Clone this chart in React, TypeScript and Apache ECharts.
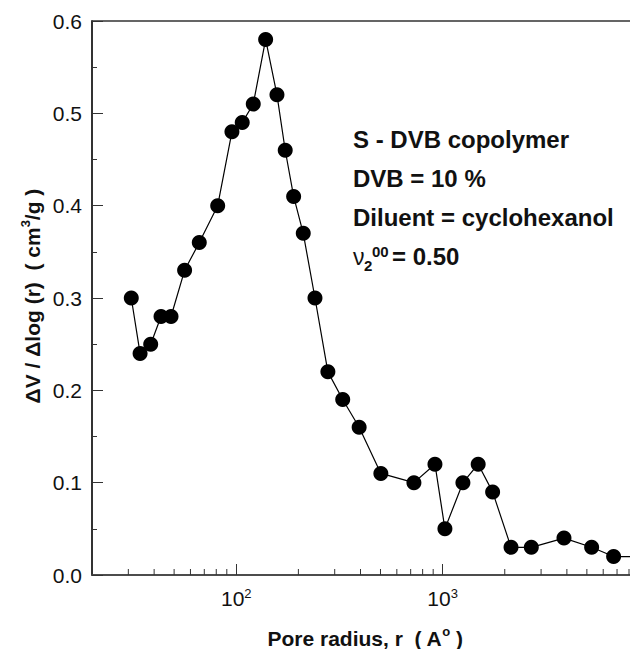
import React, { useEffect, useRef } from "react";
import * as echarts from "echarts";

// Pore size distribution of an S-DVB copolymer (log-scaled pore radius)
const poreRadius = [
  31, 34.2, 38.5, 43.2, 48.3, 56.2, 66.2, 81.3, 95.3, 106.9, 120.9, 138.8,
  157.5, 172.7, 189.7, 211.2, 240.7, 278, 328, 394, 502, 726, 918, 1026,
  1254, 1487, 1747, 2145, 2690, 3873, 5273, 6738, 9000,
];
const dvDlogR = [
  0.3, 0.24, 0.25, 0.28, 0.28, 0.33, 0.36, 0.4, 0.48, 0.49, 0.51, 0.58,
  0.52, 0.46, 0.41, 0.37, 0.3, 0.22, 0.19, 0.16, 0.11, 0.1, 0.12, 0.05,
  0.1, 0.12, 0.09, 0.03, 0.03, 0.04, 0.03, 0.02, 0.02,
];

// Minor tick positions on the logarithmic radius axis
const xMinorTicks = [
  30, 40, 50, 60, 70, 80, 90, 200, 300, 400, 500, 600, 700, 800, 900, 2000,
  3000, 4000, 5000, 6000, 7000, 8000, 9000,
];
// Decades that carry a "10^k" label
const xLabelledDecades = [2, 3];

const annotationLines = ["S - DVB copolymer", "DVB = 10 %", "Diluent = cyclohexanol"];

const FONT = "'Liberation Sans', Arial, Helvetica, sans-serif";
const INK = "#111";

export default function App() {
  const ref = useRef<HTMLDivElement>(null);

  useEffect(() => {
    if (!ref.current) return;
    const chart = echarts.init(ref.current, null, { renderer: "svg" });

    const points = poreRadius.map((r, i) => [r, dvDlogR[i]]);

    const annX = 353;
    const annBaselines = [151, 190, 229, 268];

    const graphics: any[] = annotationLines.map((t, i) => ({
      type: "text",
      x: annX,
      y: annBaselines[i],
      style: {
        text: t,
        font: `bold 24px ${FONT}`,
        fill: INK,
        textVerticalAlign: "bottom",
      },
    }));
    // nu_2^00 = 0.50
    const b4 = annBaselines[3];
    graphics.push(
      { type: "text", x: annX, y: b4, style: { text: "ν", font: `23px ${FONT}`, fill: INK, textVerticalAlign: "bottom" } },
      { type: "text", x: annX + 11, y: b4 + 5, style: { text: "2", font: `bold 15px ${FONT}`, fill: INK, textVerticalAlign: "bottom" } },
      { type: "text", x: annX + 19, y: b4 - 9, style: { text: "00", font: `bold 15px ${FONT}`, fill: INK, textVerticalAlign: "bottom" } },
      { type: "text", x: annX + 39, y: b4, style: { text: "= 0.50", font: `bold 24px ${FONT}`, fill: INK, textVerticalAlign: "bottom" } }
    );

    // Axis titles
    graphics.push({
      type: "text",
      x: 365,
      y: 637,
      style: {
        text: "{b|Pore radius, r  ( A}{s|o}{b| )}",
        font: `bold 21px ${FONT}`,
        fill: INK,
        align: "center",
        verticalAlign: "middle",
        rich: {
          b: { font: `bold 21px ${FONT}`, fill: INK, lineHeight: 24, verticalAlign: "bottom" },
          s: { font: `bold 13px ${FONT}`, fill: INK, lineHeight: 24, verticalAlign: "top" },
        },
      },
    });
    graphics.push({
      type: "text",
      x: 31,
      y: 296,
      rotation: Math.PI / 2,
      style: {
        text: "{b|ΔV / Δlog (r)  ( cm}{s|3}{b|/g )}",
        font: `bold 21px ${FONT}`,
        fill: INK,
        align: "center",
        verticalAlign: "middle",
        rich: {
          b: { font: `bold 21px ${FONT}`, fill: INK, lineHeight: 24, verticalAlign: "bottom" },
          s: { font: `bold 13px ${FONT}`, fill: INK, lineHeight: 24, verticalAlign: "top" },
        },
      },
    });

    chart.setOption({
      animation: false,
      backgroundColor: "#fff",
      grid: {
        left: 92,
        top: 21,
        right: 0,
        bottom: 74,
        show: true,
        borderColor: "#333",
        borderWidth: 1.5,
        containLabel: false,
        outerBoundsMode: "none",
      },
      xAxis: {
        type: "log",
        logBase: 10,
        min: 20,
        max: 10000,
        axisLine: { show: true, lineStyle: { color: "#444", width: 1.5 } },
        axisTick: { show: true, inside: true, length: 11, lineStyle: { color: "#333", width: 1 } },
        splitLine: { show: false },
        axisLabel: {
          margin: 12,
          color: INK,
          fontFamily: FONT,
          fontSize: 21,
          showMinLabel: false,
          showMaxLabel: false,
          formatter: (v: number) => {
            const k = Math.round(Math.log10(v));
            if (Math.abs(Math.log10(v) - k) > 1e-6) return "";
            if (!xLabelledDecades.includes(k)) return "";
            return `{b|10}{s|${k}}`;
          },
          rich: {
            b: { fontFamily: FONT, fontSize: 21, color: INK, lineHeight: 22, verticalAlign: "bottom" },
            s: { fontFamily: FONT, fontSize: 13, color: INK, lineHeight: 22, verticalAlign: "top" },
          },
        },
      },
      yAxis: {
        type: "value",
        min: 0,
        max: 0.6,
        interval: 0.1,
        axisLine: { show: true, lineStyle: { color: "#222", width: 1.5 } },
        axisTick: { show: true, inside: true, length: 11, lineStyle: { color: "#333", width: 1 } },
        minorTick: { show: true, splitNumber: 2, length: 5, lineStyle: { color: "#333", width: 1 } },
        splitLine: { show: false },
        axisLabel: {
          margin: 10,
          color: INK,
          fontFamily: FONT,
          fontSize: 21,
          formatter: (v: number) => v.toFixed(1),
        },
      },
      series: [
        {
          type: "custom",
          silent: true,
          data: xMinorTicks.map((v) => [v, 0]),
          renderItem: (_params: any, api: any) => {
            const p = api.coord([api.value(0), 0]);
            return {
              type: "line",
              shape: { x1: p[0], y1: p[1], x2: p[0], y2: p[1] - 6 },
              style: { stroke: "#333", lineWidth: 1 },
            };
          },
          z: 1,
        },
        {
          type: "line",
          data: points,
          symbol: "circle",
          symbolSize: 15,
          itemStyle: { color: "#000" },
          lineStyle: { color: "#000", width: 1.2 },
          z: 3,
        },
      ],
      graphic: graphics,
    });

    return () => chart.dispose();
  }, []);

  // The plot area runs a little past the right edge of the frame
  return (
    <div
      style={{
        position: "absolute",
        left: 0,
        top: 0,
        width: 630,
        height: 649,
        overflow: "hidden",
      }}
    >
      <div ref={ref} style={{ width: 649, height: 649 }} />
    </div>
  );
}
